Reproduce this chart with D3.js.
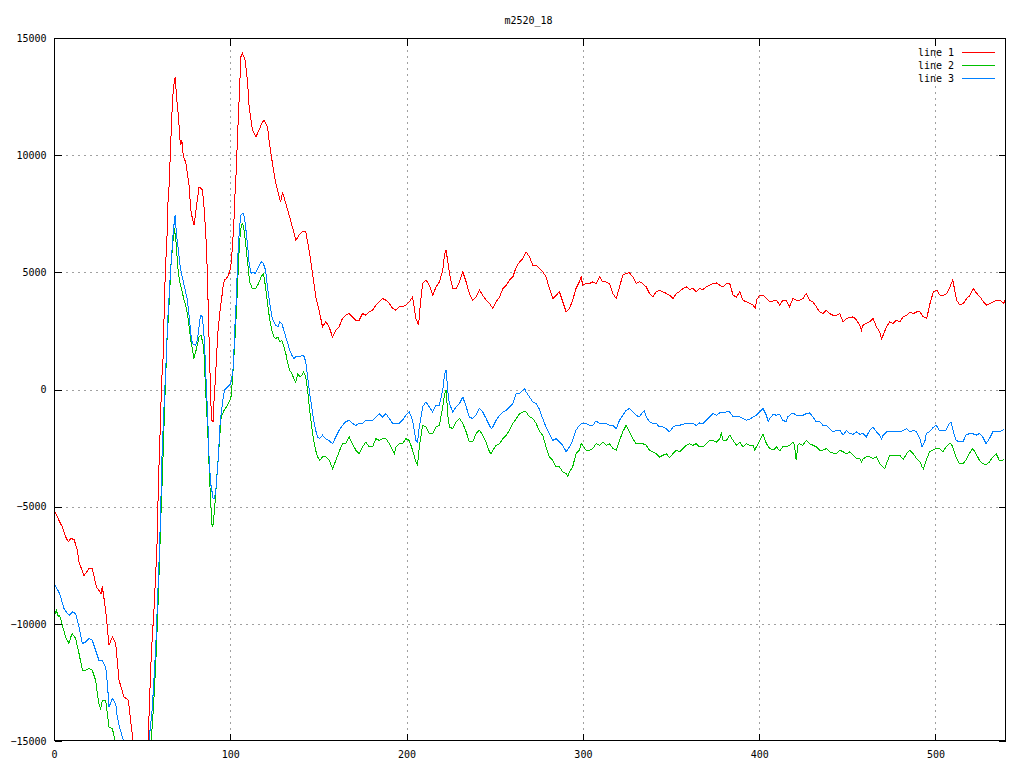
<!DOCTYPE html>
<html><head><meta charset="utf-8">
<script src="https://cdn.jsdelivr.net/npm/d3@7"></script>
<style>
html,body{margin:0;padding:0;background:#fff;}
svg{display:block;}
text{font-family:"DejaVu Sans Mono","Liberation Mono",monospace;font-size:10px;fill:#000;}
</style></head><body>
<svg id="chart" width="1024" height="768"></svg>
<script>
const chartTitle = "m2520_18";
const seriesNames = ["line 1", "line 2", "line 3"];
const xTicks = [0, 100, 200, 300, 400, 500];
const yTicks = [-15000, -10000, -5000, 0, 5000, 10000, 15000];

const line1 = [[0,-5150],[1.5,-5350],[3.2,-5650],[4.7,-5860],[6.6,-6290],[8.1,-6500],[9.6,-6360],[11.4,-6400],[13.2,-6860],[14.2,-7360],[17,-7950],[19.9,-7640],[21.7,-7640],[24,-8420],[26.7,-8710],[27.4,-8400],[29.3,-9420],[31.2,-10910],[33.1,-10560],[35,-10840],[36.9,-12410],[39.7,-13120],[42.2,-13260],[44.1,-14540],[44.8,-14970],[47,-15900],[50,-16600],[52.5,-15900],[53.5,-14800],[54,-13690],[55.2,-11270],[56.8,-9280],[57.7,-7850],[58.6,-6290],[59.2,-4010],[60,-2300],[60.5,-1020],[61.1,400],[61.9,1390],[62.4,3000],[63.2,5200],[64,6230],[64.5,7800],[65.3,8700],[66.2,10500],[67.1,12130],[67.7,12850],[68.7,13340],[69.1,12920],[69.6,12420],[70.6,11640],[71.5,10640],[71.9,10430],[72.5,10640],[73.4,9930],[74.7,9710],[75.7,9220],[76.6,8720],[77.6,7650],[78.5,7300],[79.5,7010],[80.4,7580],[81.3,8080],[82.3,8650],[84.2,8510],[85.1,7790],[86.1,6660],[87,4950],[87.6,3100],[88.4,970],[88.9,-460],[89.5,-1310],[90.2,-1380],[90.8,-460],[91.4,260],[92.1,1250],[92.9,2390],[94,3240],[95.2,3950],[95.9,4380],[96.7,4670],[97.8,4740],[98.9,4880],[99.7,5020],[100.5,5380],[101.2,6090],[102,7090],[102.7,8370],[103.5,9500],[104,10640],[105,12350],[106,14200],[106.9,14340],[108.4,14060],[109.7,13200],[110.7,12060],[112.6,11070],[114.5,10780],[116.3,11070],[118.2,11420],[119.2,11490],[121.1,11210],[122,10640],[123.9,9650],[125.8,8790],[127.7,8220],[128.6,8000],[129.6,8430],[131.5,7940],[133.4,7440],[135.2,6940],[137.2,6370],[139,6590],[140.9,6730],[142.8,6730],[144.7,5950],[146.6,4950],[148.5,3950],[150.4,3380],[152.3,2670],[154.2,2890],[156.1,2670],[158,2230],[159.9,2530],[161.7,2670],[163.6,3030],[165.5,3170],[167.4,3240],[169.3,3100],[171.2,2960],[173.1,2960],[175,3240],[176.9,3170],[178.8,3310],[180.7,3380],[182.6,3600],[184.5,3740],[186.4,3880],[188.3,3810],[190.2,3670],[192.1,3460],[194,3380],[195.8,3530],[197.7,3530],[199.6,3600],[201.5,3740],[203.4,3950],[205.3,3030],[206.8,2740],[207.8,3670],[209.1,4520],[211,4670],[212.9,4450],[214.8,4020],[216.7,4380],[218.6,4590],[220.5,5090],[221.6,5800],[222.4,5950],[223.5,5380],[224.3,4950],[226.2,4310],[228.1,4310],[230,4590],[231.9,5020],[233.8,4590],[235.6,4100],[237.5,3810],[239.4,3950],[241.3,4240],[243.2,4020],[245.1,3810],[247,3670],[248.9,3460],[250.8,3740],[252.7,3950],[254.6,4310],[256.5,4450],[258.4,4670],[260.3,4810],[262.2,5230],[264.1,5450],[266,5590],[267.8,5870],[269.7,5660],[271.6,5300],[273.5,5300],[275.4,5160],[277.2,5020],[279.1,4810],[281,4310],[282.9,3880],[284.8,4020],[286.7,4170],[288.6,3740],[290.5,3310],[292.4,3460],[294.2,3810],[296.1,4310],[298,4590],[299,4810],[299.9,4450],[301.8,4520],[303.7,4520],[305.6,4590],[307.5,4520],[309.4,4810],[311.3,4590],[313.2,4590],[315.1,4520],[317,4100],[318.9,3880],[320.8,4380],[322.6,4880],[324.5,4950],[326.4,4980],[328.3,4810],[330.2,4520],[332.1,4590],[334,4520],[335.9,4380],[337.8,4100],[339.7,3950],[341.6,4170],[343.5,4240],[345.4,4170],[347.3,4100],[349.2,4020],[351.1,3880],[353,4100],[354.8,4170],[356.7,4310],[358.6,4380],[360.5,4270],[362.4,4310],[364.3,4170],[366.2,4310],[368.1,4270],[370,4380],[371.9,4450],[373.8,4520],[375.7,4550],[377.6,4450],[379.5,4380],[381.4,4520],[383.3,4520],[385.2,4020],[387.1,3950],[389,4170],[390.8,3810],[392.7,3740],[394.6,3670],[396.5,3600],[398,3450],[398.4,3810],[400.3,4020],[402.2,4020],[404.1,3880],[406,3740],[407.9,3780],[409.8,3810],[411.7,3600],[413.4,3810],[415.3,3810],[417.2,3530],[419.1,3880],[421,3810],[422.9,3810],[424.8,3880],[426.7,4100],[428.6,3810],[430.5,3740],[432.4,3530],[434.3,3310],[436.2,3240],[438.1,3380],[440,3240],[441.9,3170],[443.8,3170],[445.7,3240],[447.6,2890],[449.5,3030],[451.4,3070],[453.3,3100],[455.2,2960],[457.1,2740],[458,2530],[458.9,2740],[460.8,2820],[462.7,2890],[464.6,3030],[466.5,2670],[468.4,2460],[469.4,2170],[470.3,2320],[472.2,2670],[474.1,2890],[476,2820],[477.9,2960],[479.8,2890],[481.7,3100],[483.6,3170],[485.5,3310],[487.4,3240],[489.3,3310],[491.2,3310],[493.1,3100],[495,3030],[496.9,3670],[498.8,4170],[500.7,4240],[502.6,4020],[504.5,4020],[506.4,4100],[508.2,4380],[509.8,4670],[511.1,4170],[512,3810],[513.9,3600],[515.8,3670],[517.7,3880],[519.6,4020],[521.5,4310],[523.4,4100],[525.3,3950],[527.2,3740],[529.1,3600],[531,3670],[532.9,3740],[534.8,3810],[536.7,3810],[538.6,3670],[539.5,3810]];

const line2 = [[0.6,-9560],[1.3,-9420],[2.5,-9700],[3.2,-9630],[4.7,-10060],[6.6,-10560],[8.5,-10840],[9.5,-10560],[10.4,-10420],[12.3,-10630],[14.2,-11270],[16.1,-11980],[18,-11980],[19.9,-11910],[21.7,-11980],[23.6,-12410],[24.6,-12980],[25.5,-13400],[26.5,-13620],[27.4,-13260],[29.3,-13260],[30.3,-13830],[31.2,-14400],[33.1,-14470],[34.6,-14970],[37,-15800],[41,-16800],[45,-17400],[50,-17600],[53,-16500],[55,-15000],[55.8,-14300],[57,-12800],[58,-11200],[59.2,-8800],[60.5,-5730],[61.9,-2740],[63,-180],[64.1,2100],[65.3,3670],[66.4,5380],[67.7,6510],[68.1,6870],[69,6510],[70.2,5230],[71.3,4590],[72.5,4240],[73.8,3810],[74.9,3530],[76.2,2960],[77.6,2100],[78.9,1530],[79.4,1320],[80.6,1680],[82.3,2240],[83.4,2320],[84.9,1820],[86.1,-180],[87.2,-1740],[88.3,-3880],[89.5,-5730],[90.1,-5870],[91.2,-5010],[92.5,-3590],[93.6,-2450],[94.8,-1170],[96.5,-890],[98.4,-670],[100.3,-390],[101.2,390],[102.3,1680],[103.4,3240],[104.6,5230],[105.1,6090],[105.7,6660],[106.3,7010],[106.9,7080],[107.6,6940],[108.7,6230],[109.9,5370],[111,4590],[112.5,4310],[114.5,4310],[116,4520],[117.5,4810],[118.8,4950],[120,4380],[121.1,3670],[122.4,2960],[123.6,2530],[124.7,2240],[125.8,2170],[127,2240],[128.1,2030],[129.2,2100],[130.4,1820],[131.5,1530],[132.6,1110],[133.7,820],[134.9,680],[136,470],[137.1,320],[138.3,680],[139.4,540],[140.5,610],[141.6,750],[142.8,540],[143.9,-30],[145,-890],[146.2,-1600],[147.3,-2170],[148.4,-2590],[149.6,-2880],[150.7,-3020],[152.3,-2880],[154.2,-2880],[156.1,-3020],[158,-3380],[159.9,-3020],[161.7,-2660],[163.6,-2310],[165.5,-2310],[167.4,-2020],[169.3,-2310],[171.2,-2590],[173.1,-2740],[175,-2450],[176.9,-2240],[178.8,-2450],[180.7,-2450],[182.6,-2100],[184.5,-2170],[186.4,-2100],[188.3,-2100],[190.2,-2310],[192.1,-2590],[193,-2740],[194,-2450],[195.8,-2310],[197.7,-2310],[199.6,-2100],[201.5,-2170],[203.4,-2590],[205.3,-3090],[206.2,-3230],[207.2,-2450],[209.1,-1530],[211,-1600],[212.9,-1880],[214.8,-1880],[216.7,-1600],[218.6,-1530],[220.5,-740],[221.6,-170],[222.4,-30],[223.5,-1170],[224.3,-1600],[226.2,-1670],[228.1,-1380],[230,-1240],[231.9,-1450],[233.8,-1810],[235.6,-2240],[237.5,-2240],[239.4,-1880],[241.3,-1740],[243.2,-1950],[245.1,-2240],[247,-2660],[248,-2740],[248.9,-2590],[250.8,-2380],[252.7,-2310],[254.6,-2100],[256.5,-1950],[258.4,-1740],[260.3,-1450],[262.2,-1240],[264.1,-1030],[266,-960],[267.8,-960],[269.7,-1170],[271.6,-1240],[273.5,-1450],[275.4,-1780],[277.2,-1950],[279.1,-2450],[281,-2880],[282.9,-3020],[284.8,-3300],[286.7,-3300],[288.6,-3520],[290.5,-3590],[291.4,-3700],[292.4,-3520],[294.2,-3300],[296.1,-2740],[298,-2590],[299,-2310],[299.9,-2380],[301.8,-2590],[303.7,-2590],[305.6,-2520],[307.5,-2310],[309.4,-2380],[311.3,-2240],[313.2,-2380],[315.1,-2310],[317,-2520],[318.9,-2590],[320.8,-2170],[322.6,-1810],[324.5,-1530],[326.4,-1810],[328.3,-2100],[330.2,-2310],[332.1,-2310],[334,-2310],[335.9,-2380],[337.8,-2590],[339.7,-2660],[341.6,-2740],[343.5,-2880],[345.4,-2810],[347.3,-2740],[349.2,-2910],[351.1,-2740],[353,-2590],[354.8,-2660],[356.7,-2520],[358.6,-2380],[360.5,-2310],[362.4,-2380],[364.3,-2310],[366.2,-2450],[368.1,-2450],[370,-2310],[371.9,-2170],[373.8,-2170],[375.7,-2240],[377.6,-2100],[378.5,-1880],[379.5,-2170],[381.4,-2170],[383.3,-1950],[385.2,-2170],[387.1,-2380],[389,-2240],[390.8,-2450],[392.7,-2310],[394.6,-2380],[396.5,-2380],[397.4,-2590],[398.4,-2450],[400.3,-2170],[402.2,-1910],[404.1,-2310],[406,-2520],[407.9,-2590],[409.8,-2450],[411.7,-2620],[413.4,-2450],[415.3,-2450],[417.2,-2380],[419.1,-2240],[420,-2380],[421,-3020],[421.9,-2380],[422.9,-2310],[424.8,-2380],[426.7,-2170],[428.6,-2310],[430.5,-2380],[432.4,-2450],[434.3,-2590],[436.2,-2590],[438.1,-2520],[440,-2660],[441.9,-2710],[443.8,-2740],[445.7,-2590],[447.6,-2660],[449.5,-2740],[451.4,-2660],[453.3,-2810],[455.2,-2950],[457.1,-2950],[458,-3090],[459,-2950],[460.8,-2880],[462.7,-2880],[464.6,-2950],[466.5,-2880],[468.4,-3160],[470.3,-3300],[471.2,-3380],[472.2,-3160],[474.1,-2810],[476,-2810],[477.9,-2810],[479.8,-2810],[481.7,-2990],[483.6,-2740],[485.5,-2590],[487.4,-2740],[489.3,-2950],[491.2,-3090],[492.4,-3300],[493.2,-3380],[494.8,-3020],[496.6,-2660],[498.5,-2590],[500.4,-2520],[502.2,-2520],[504.1,-2660],[506,-2450],[507.9,-2310],[508.8,-2310],[509.8,-2450],[511.7,-2880],[513.6,-3160],[515.5,-3160],[517.3,-3020],[519.2,-2740],[521.1,-2520],[523,-2740],[524.9,-3020],[526.8,-3160],[528.7,-3230],[530.6,-3090],[532.5,-2880],[534.4,-2740],[536.2,-3020],[538.1,-3020],[539.1,-2950]];

const line3 = [[0.6,-8350],[3.2,-8710],[5.7,-9350],[7.6,-9560],[8.9,-9630],[10.4,-9490],[12.3,-9560],[14.2,-10130],[16.1,-10840],[18,-10770],[19.9,-10630],[21.7,-10700],[23.6,-11130],[25.5,-11560],[27.4,-11560],[29.3,-11840],[30.3,-12550],[31.2,-13550],[33.1,-13190],[35,-13410],[35.9,-13970],[36.9,-14330],[38.8,-14830],[39.7,-15040],[42,-15800],[46,-16900],[50,-17200],[53,-16200],[53.9,-14970],[55.8,-13550],[57.7,-10990],[58.6,-9280],[59.6,-7290],[60.5,-5290],[61.1,-3160],[62.4,-740],[63.6,1250],[64.5,2960],[65.8,4660],[66.8,5800],[67.7,6800],[68.7,7440],[69.4,6660],[70.6,5940],[71.3,5380],[72.5,4880],[73.2,4660],[74.4,4240],[75.7,3810],[76.6,3170],[77.8,2240],[78.5,1960],[80.4,1890],[81.3,2100],[82.7,2960],[83.4,3170],[84.2,3100],[85.3,2100],[86.1,680],[87.2,-1170],[88,-3020],[88.9,-4020],[90.3,-4660],[91,-4660],[91.8,-4300],[93.1,-3020],[94.2,-1460],[95.5,-600],[96.7,-30],[98.4,110],[100.3,250],[101.2,680],[101.7,960],[102.1,1680],[102.6,2670],[103.4,3810],[103.9,4950],[104.6,6230],[105.5,7080],[106.1,7440],[106.9,7510],[107.6,7510],[108.2,7220],[108.7,6940],[109.7,6230],[110.7,5380],[111.8,4950],[112.9,5020],[114.1,4950],[115,5090],[116.4,5300],[117.7,5450],[118.8,5370],[120,5090],[121.1,4380],[122.4,3670],[123.6,3100],[124.7,2880],[125.8,2740],[127,2670],[128.1,2880],[129.2,2810],[130.4,2530],[131.5,2240],[132.6,1960],[133.7,1680],[134.9,1460],[136,1320],[137.1,1390],[138.3,1390],[139.4,1390],[140.5,1460],[141.6,1460],[142.8,1180],[143.9,540],[145,-180],[146.2,-740],[147.3,-1310],[148.4,-1740],[149.6,-2030],[150.7,-2100],[152.3,-1950],[154.2,-2100],[156.1,-2190],[158,-2310],[159.9,-2020],[161.7,-1740],[163.6,-1530],[165.5,-1380],[167.4,-1310],[169.3,-1450],[171.2,-1530],[173.1,-1450],[175,-1450],[176.9,-1310],[178.8,-1310],[180.7,-1310],[182.6,-1170],[184.5,-1030],[186.4,-1170],[188.3,-1030],[190.2,-1240],[192.1,-1450],[194,-1450],[195.8,-1450],[197.7,-1310],[199.6,-1100],[201.5,-960],[203.4,-1310],[205.3,-2170],[206.2,-2240],[207.2,-1600],[209.1,-740],[211,-530],[212.9,-740],[214.8,-960],[216.7,-670],[218.6,-670],[220.5,-30],[221.6,680],[222.4,820],[223.5,-170],[224.3,-600],[226.2,-960],[228.1,-740],[230,-600],[231.9,-320],[233.8,-740],[235.6,-1170],[237.5,-1240],[239.4,-1100],[241.3,-810],[243.2,-960],[245.1,-1240],[247,-1530],[248,-1670],[248.9,-1600],[250.8,-1310],[252.7,-1100],[254.6,-960],[256.5,-890],[258.4,-740],[260.3,-600],[262.2,-170],[264.1,-170],[266,-30],[266.9,40],[267.8,-100],[269.7,-320],[271.6,-530],[273.5,-600],[275.4,-850],[277.2,-1240],[279.1,-1600],[281,-1880],[282.9,-2170],[284.8,-2100],[286.7,-2240],[288.6,-2380],[290.5,-2660],[292.4,-2450],[294.2,-2170],[296.1,-1740],[298,-1530],[299.9,-1430],[301.8,-1450],[303.7,-1530],[305.6,-1530],[307.5,-1340],[309.4,-1450],[311.3,-1450],[313.2,-1450],[315.1,-1530],[317,-1530],[318.9,-1670],[320.8,-1310],[322.6,-1100],[324.5,-890],[326.4,-810],[328.3,-960],[330.2,-1100],[332.1,-1170],[334,-960],[334.9,-890],[335.9,-1170],[337.8,-1380],[339.7,-1450],[341.6,-1450],[343.5,-1600],[345.4,-1600],[347.3,-1670],[349.2,-1810],[351.1,-1600],[353,-1530],[354.8,-1530],[356.7,-1480],[358.6,-1450],[360.5,-1450],[362.4,-1450],[364.3,-1530],[366.2,-1430],[368.1,-1450],[370,-1310],[371.9,-1170],[373.8,-1030],[375.7,-1100],[377.6,-1000],[379.5,-1000],[381.4,-960],[383.3,-960],[385.2,-1170],[387.1,-1170],[389,-1170],[390.8,-1240],[392.7,-1310],[394.6,-1280],[396.5,-1170],[398.4,-1100],[400.3,-960],[402.2,-810],[404.1,-1100],[405.1,-1380],[406,-1240],[407.9,-1060],[409.8,-1100],[411.7,-1060],[413.4,-1310],[415.3,-1380],[416.2,-1170],[417.2,-1100],[419.1,-1000],[421,-1100],[422.9,-1100],[424.8,-1100],[426.7,-1030],[428.6,-1000],[430.5,-1170],[432.4,-1380],[434.3,-1380],[436.2,-1530],[438.1,-1530],[440,-1670],[441.9,-1810],[443.8,-1740],[445.7,-1740],[447.6,-1950],[449.5,-1740],[451.4,-1880],[453.3,-1910],[455.2,-1810],[457.1,-1910],[459,-1880],[460.8,-2020],[462.7,-1740],[464.6,-1600],[466.5,-1810],[468.4,-1950],[469.4,-2100],[470.3,-1950],[472.2,-1810],[474.1,-1810],[476,-1810],[477.9,-1810],[479.8,-1810],[481.7,-1740],[483.6,-1670],[485.5,-1810],[487.4,-1740],[489.3,-1810],[491.2,-2100],[492.4,-2450],[494.1,-2170],[494.8,-1880],[496.6,-1810],[498.5,-1630],[500.4,-1530],[502.2,-1740],[504.1,-1740],[506,-1740],[507.9,-1450],[508.8,-1380],[510.7,-1950],[511.7,-2170],[513.6,-2240],[515.5,-2240],[517.3,-1950],[519.2,-1880],[521.1,-1880],[523,-1950],[524.9,-1880],[526.8,-2020],[528.7,-2310],[530.6,-2100],[532.5,-1810],[534.4,-1810],[536.2,-1810],[538.1,-1740],[539.1,-1700]];

const seriesData = [line1, line2, line3];
const seriesColors = ["#ff0000", "#00c000", "#0080ff"];

const L = 54, R = 1006, T = 38, B = 741;
const svg = d3.select("#chart");
svg.append("rect").attr("width", 1024).attr("height", 768).attr("fill", "#fff");

const x = d3.scaleLinear().domain([0, 540]).range([L, R]);
const y = d3.scaleLinear().domain([-15000, 15000]).range([B, T]);

// grid
const grid = svg.append("g").attr("stroke", "#a0a0a0").attr("stroke-width", 1)
  .attr("stroke-dasharray", "2,4").attr("shape-rendering", "crispEdges");
xTicks.filter(v => v > 0 && v < 540).forEach(v => {
  grid.append("line").attr("x1", Math.round(x(v)) + 0.5).attr("x2", Math.round(x(v)) + 0.5)
    .attr("y1", T).attr("y2", B);
});
yTicks.filter(v => v > -15000 && v < 15000).forEach(v => {
  grid.append("line").attr("y1", Math.round(y(v)) + 0.5).attr("y2", Math.round(y(v)) + 0.5)
    .attr("x1", L).attr("x2", R);
});

// axes
function styleAxis(g) {
  g.select(".domain").remove();
  g.selectAll(".tick line").attr("stroke", "#000").attr("shape-rendering", "crispEdges");
  g.selectAll(".tick text").attr("font-family", "DejaVu Sans Mono").attr("font-size", 10).attr("fill", "#000");
}
svg.append("g").attr("transform", `translate(${L + 0.5},0)`)
  .call(d3.axisLeft(y).tickValues(yTicks).tickSize(-7).tickPadding(8).tickFormat(d3.format("d")))
  .call(styleAxis);
svg.append("g").attr("transform", `translate(${R - 0.5},0)`)
  .call(d3.axisRight(y).tickValues(yTicks).tickSize(-7).tickFormat(""))
  .call(styleAxis);
svg.append("g").attr("transform", `translate(0,${B - 0.5})`)
  .call(d3.axisBottom(x).tickValues(xTicks).tickSize(-7).tickPadding(10).tickFormat(d3.format("d")))
  .call(styleAxis);
svg.append("g").attr("transform", `translate(0,${T + 0.5})`)
  .call(d3.axisTop(x).tickValues(xTicks).tickSize(-7).tickFormat(""))
  .call(styleAxis);

// clip
svg.append("clipPath").attr("id", "plotclip").append("rect")
  .attr("x", L).attr("y", T).attr("width", R - L).attr("height", B - T);

const lineGen = d3.line().x(d => x(d[0])).y(d => y(d[1]));
const plot = svg.append("g").attr("clip-path", "url(#plotclip)");
seriesData.forEach((s, i) => {
  plot.append("path").datum(s).attr("d", lineGen)
    .attr("fill", "none").attr("stroke", seriesColors[i]).attr("stroke-width", 1)
    .attr("shape-rendering", "crispEdges").attr("stroke-linejoin", "miter");
});

// border
svg.append("rect").attr("x", L + 0.5).attr("y", T + 0.5).attr("width", R - L - 1).attr("height", B - T - 1)
  .attr("fill", "none").attr("stroke", "#000").attr("stroke-width", 1).attr("shape-rendering", "crispEdges");

// title
svg.append("text").attr("x", 528.5).attr("y", 23.5).attr("text-anchor", "middle").text(chartTitle);

// legend
seriesNames.forEach((n, i) => {
  const yy = 52 + i * 13;
  svg.append("text").attr("x", 954).attr("y", yy + 3.5).attr("text-anchor", "end").text(n);
  svg.append("line").attr("x1", 962).attr("x2", 995).attr("y1", yy + 0.5).attr("y2", yy + 0.5)
    .attr("stroke", seriesColors[i]).attr("stroke-width", 1).attr("shape-rendering", "crispEdges");
});
</script>
</body></html>
